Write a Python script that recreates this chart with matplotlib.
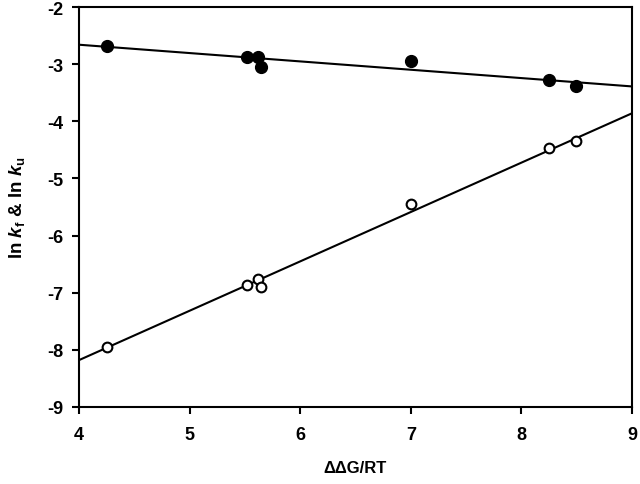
import numpy as np
import matplotlib
matplotlib.use("Agg")
import matplotlib.pyplot as plt

plt.rcParams['font.family'] = ['Liberation Sans', 'DejaVu Sans']
plt.rcParams['font.weight'] = 'bold'
plt.rcParams['axes.unicode_minus'] = False
plt.rcParams['mathtext.fontset'] = 'custom'
plt.rcParams['mathtext.rm'] = 'Liberation Sans:bold'
plt.rcParams['mathtext.it'] = 'Liberation Sans:bold:italic'
plt.rcParams['mathtext.bf'] = 'Liberation Sans:bold'

# data
ddg_rt = [4.25, 5.52, 5.62, 5.65, 7.0, 8.25, 8.49]
ln_ku = [-2.68, -2.88, -2.88, -3.05, -2.95, -3.27, -3.38]
ln_kf = [-7.95, -6.87, -6.76, -6.90, -5.45, -4.47, -4.35]

# fitted lines (end values)
fit_x = [4, 9]
fit_ku = [-2.66, -3.39]
fit_kf = [-8.18, -3.86]

fig = plt.figure(figsize=(6.4, 4.85), dpi=100)
ax = fig.add_axes([0.1234, 0.1588, 0.8641, 0.8247])

ax.plot(fit_x, fit_ku, color='black', lw=1.5, zorder=2)
ax.plot(fit_x, fit_kf, color='black', lw=1.5, zorder=2)
ax.plot(ddg_rt, ln_ku, 'o', color='black', ms=8.5, zorder=3)
ax.plot(ddg_rt, ln_kf, 'o', mfc='white', mec='black', mew=1.5, ms=7, zorder=3)

ax.set_xlim(4, 9)
ax.set_ylim(-9, -2)
ax.set_xticks([4, 5, 6, 7, 8, 9])
ax.set_yticks([-9, -8, -7, -6, -5, -4, -3, -2])
ax.tick_params(direction='out', length=5, width=1.5, labelsize=13)
ax.tick_params(axis='x', pad=9)
ax.tick_params(axis='y', pad=6)
for s in ax.spines.values():
    s.set_linewidth(1.5)

ax.set_xlabel('ΔΔG/RT', fontsize=12, fontweight='bold', labelpad=12)
ax.set_ylabel(r'ln $k_\mathrm{f}$ & ln $k_\mathrm{u}$', fontsize=13.5, fontweight='bold', labelpad=15)

fig.savefig('out.png', dpi=100)
